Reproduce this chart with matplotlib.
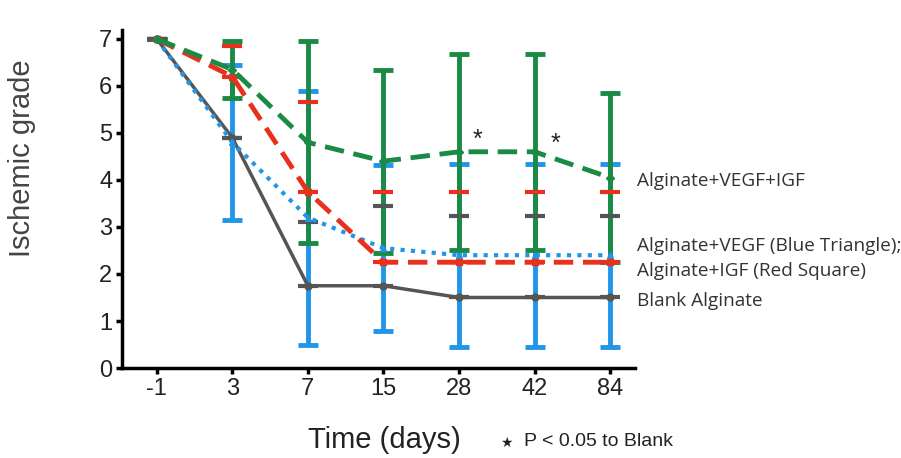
import matplotlib.pyplot as plt

# data
days = ["-1", "3", "7", "15", "28", "42", "84"]
blank = [7, 4.9, 1.75, 1.75, 1.5, 1.5, 1.5]
blank_err = [0, 0, 1.35, 1.7, 1.73, 1.73, 1.73]
vegf = [7, 4.8, 3.2, 2.55, 2.4, 2.4, 2.4]
vegf_err = [0, 1.65, 2.7, 1.77, 1.95, 1.95, 1.95]
igf = [7, 6.2, 3.75, 2.25, 2.25, 2.25, 2.25]
igf_err = [0, 0.65, 1.9, 1.5, 1.5, 1.5, 1.5]
both = [7, 6.35, 4.8, 4.4, 4.6, 4.6, 4.05]
both_err = [0, 0.6, 2.15, 1.95, 2.08, 2.08, 1.8]

labels = ["Alginate+VEGF+IGF", "Alginate+VEGF (Blue Triangle);\nAlginate+IGF (Red Square)", "Blank Alginate"]
label_y = [3.97, 2.33, 1.43]
star_x = [4.25, 5.28]
star_y = [4.85, 4.77]

gray = "#555555"
blue = "#2196e8"
red = "#e8301c"
green = "#1a8a44"

x = list(range(len(days)))

fig = plt.figure(figsize=(9.01, 4.58), dpi=100)
ax = fig.add_axes([0.1354, 0.1965, 0.5694, 0.7389])

# error bars (red and gray only upward, as in the original)
ax.errorbar(x, vegf, yerr=vegf_err, fmt="none", ecolor=blue, elinewidth=3.5, capsize=7, capthick=3.5, zorder=2)
ax.errorbar(x, both, yerr=both_err, fmt="none", ecolor=green, elinewidth=3.5, capsize=7, capthick=3.5, zorder=3)
ax.errorbar(x, igf, yerr=[[0] * 7, igf_err], fmt="none", ecolor=red, elinewidth=0, capsize=7, capthick=3, zorder=4)
ax.errorbar(x, blank, yerr=[[0] * 7, blank_err], fmt="none", ecolor=gray, elinewidth=0, capsize=7, capthick=3, zorder=4)

# lines
ax.plot(x, blank, color=gray, lw=2.5, marker="o", ms=5, zorder=5)
ax.plot(x, vegf, color=blue, lw=3, ls=(0, (1, 1.5)), marker="^", ms=5, zorder=5)
ax.plot(x, igf, color=red, lw=3.5, ls=(0, (4, 2)), marker="s", ms=5, zorder=6)
ax.plot(x, both, color=green, lw=3.5, ls=(0, (4, 2)), marker="D", ms=4, zorder=6)

for xs, ys in zip(star_x, star_y):
    ax.text(xs, ys, "*", fontsize=18, ha="center", va="center", color="#222222",
            fontfamily="Liberation Sans")

for lab, ly in zip(labels, label_y):
    ax.text(6.36, ly, lab, fontsize=13.7, fontfamily="Open Sans", va="center", ha="left",
            color="#333333", linespacing=1.45, clip_on=False)

ax.set_xlim(-0.46, 6.33)
ax.set_ylim(0, 7.2)
ax.set_xticks(x)
ax.set_xticklabels(days)
ax.set_yticks(range(8))
ax.tick_params(labelsize=17, width=2.5, length=4, direction="out", pad=3)
for lbl in ax.get_xticklabels() + ax.get_yticklabels():
    lbl.set_fontfamily("Liberation Sans")
    lbl.set_color("#222222")
for side in ["top", "right"]:
    ax.spines[side].set_visible(False)
for side in ["left", "bottom"]:
    ax.spines[side].set_linewidth(2.5)

ax.set_ylabel("Ischemic grade", fontsize=21, fontfamily="Liberation Sans", color="#444444")
ax.yaxis.set_label_coords(-0.168, 0.62)
fig.text(0.427, 0.04, "Time (days)", fontsize=21, fontfamily="Liberation Sans", ha="center", va="center",
         color="#222222")
fig.text(0.555, 0.033, "\u2605", fontsize=10, family=["Liberation Sans", "DejaVu Sans"],
         ha="left", va="center", color="#222222")
fig.text(0.582, 0.035, "P < 0.05 to Blank", fontsize=14, fontfamily="Liberation Sans",
         ha="left", va="center", color="#222222")

fig.savefig("out.png", dpi=100)
